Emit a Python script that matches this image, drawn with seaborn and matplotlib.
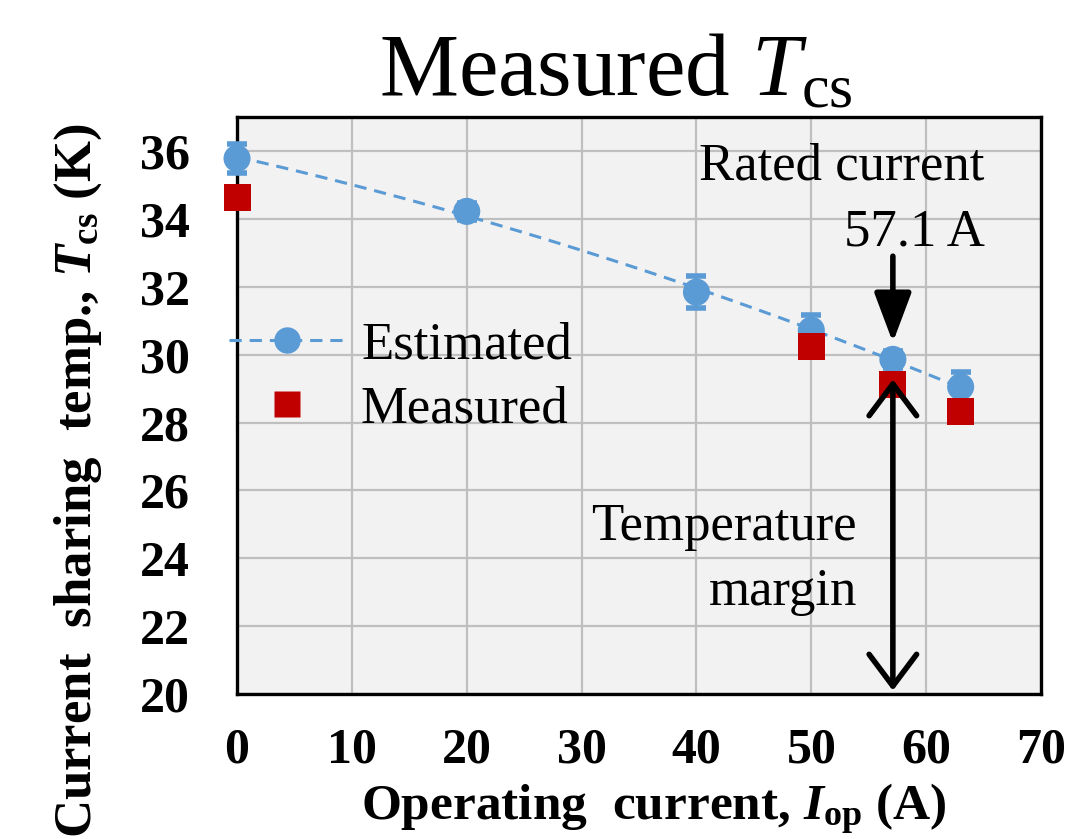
import matplotlib
matplotlib.use("Agg")
import matplotlib.pyplot as plt
from matplotlib.lines import Line2D
import seaborn as sns
import pandas as pd

# ---- data ----
est_current = [0, 20, 40, 50, 57.1, 63]
est_tcs = [35.78, 34.22, 31.84, 30.72, 29.86, 29.05]
est_err = [0.42, 0.25, 0.47, 0.44, 0.25, 0.44]
meas_current = [0, 50, 57.1, 63]
meas_tcs = [34.62, 30.24, 29.12, 28.32]
rated_current = 57.1
x_ticks = [0, 10, 20, 30, 40, 50, 60, 70]
y_ticks = [20, 22, 24, 26, 28, 30, 32, 34, 36]

BLUE = "#5B9BD5"
RED = "#C00000"

sns.set_theme(style="whitegrid", rc={
    "axes.facecolor": "#F2F2F2",
    "grid.color": "#BFBFBF",
    "grid.linewidth": 1.6,
    "axes.edgecolor": "black",
    "axes.linewidth": 2.4,
    "text.color": "black",
    "axes.labelcolor": "black",
    "xtick.color": "black",
    "ytick.color": "black",
})
plt.rcParams["font.family"] = ["Liberation Serif", "DejaVu Serif"]
plt.rcParams["mathtext.fontset"] = "custom"
plt.rcParams["mathtext.rm"] = "Liberation Serif"
plt.rcParams["mathtext.it"] = "Liberation Serif:italic"
plt.rcParams["mathtext.bf"] = "Liberation Serif:bold"
plt.rcParams["mathtext.bfit"] = "Liberation Serif:italic:bold"

est_df = pd.DataFrame({"I": est_current, "T": est_tcs, "err": est_err})
meas_df = pd.DataFrame({"I": meas_current, "T": meas_tcs})

fig = plt.figure(figsize=(10.75, 8.39), dpi=100)
ax = fig.add_axes([0.2205, 0.1728, 0.7479, 0.6877])

# trend line (2nd order polynomial fit of the estimated points)
sns.regplot(data=est_df, x="I", y="T", order=2, ci=None, scatter=False, ax=ax,
            line_kws=dict(color=BLUE, lw=2.2, ls=(0, (4, 2.6))), truncate=True)

# error bars of estimated
ax.errorbar(est_df["I"], est_df["T"], yerr=est_df["err"], fmt="none",
            ecolor=BLUE, elinewidth=3, capsize=7.5, capthick=4, zorder=4, clip_on=False)

sns.scatterplot(data=est_df, x="I", y="T", marker="o", s=380, color=BLUE,
                edgecolor="none", ax=ax, zorder=5, clip_on=False)
sns.scatterplot(data=meas_df, x="I", y="T", marker="s", s=380, color=RED,
                edgecolor="none", ax=ax, zorder=6, clip_on=False)

ax.set_xlim(0, 70)
ax.set_ylim(20, 37.0)
ax.set_xticks(x_ticks)
ax.set_yticks(y_ticks)
ax.set_xticklabels([str(v) for v in x_ticks], fontsize=36, fontweight="bold")
ax.set_yticklabels([str(v) for v in y_ticks], fontsize=36, fontweight="bold")
ax.tick_params(axis="y", pad=34, length=0)
ax.tick_params(axis="x", pad=24, length=0)
ax.grid(True)
for s in ax.spines.values():
    s.set_visible(True)
    s.set_color("black")
    s.set_linewidth(2.4)

ax.set_xlabel(r"Operating  current, $\mathbfit{I}_{\mathbf{op}}$ (A)", fontsize=37, fontweight="bold")
ax.set_ylabel(r"Current  sharing  temp., $\mathbfit{T}_{\mathbf{cs}}$ (K)", fontsize=38, fontweight="bold")
ax.xaxis.set_label_coords(0.519, -0.152)
ax.yaxis.set_label_coords(-0.165, 0.37)

fig.text(0.573, 0.887, r"Measured $T_{\mathrm{cs}}$", fontsize=64, ha="center", va="baseline")

# legend
handles = [
    Line2D([], [], color=BLUE, lw=2.2, ls=(0, (4, 2.6)), marker="o", markersize=19,
           markeredgecolor="none"),
    Line2D([], [], color=RED, lw=0, marker="s", markersize=19, markeredgecolor="none"),
]
ax.legend(handles, ["Estimated", "Measured"], loc="center left",
          bbox_to_anchor=(-0.01, 0.548), frameon=False, fontsize=38,
          handlelength=2.2, handletextpad=0.3, labelspacing=0.3,
          borderpad=0, borderaxespad=0)

# annotations
ax.text(0.930, 0.891, "Rated current", transform=ax.transAxes, fontsize=38,
        ha="right", va="baseline")
ax.text(0.930, 0.778, f"{rated_current} A", transform=ax.transAxes, fontsize=38,
        ha="right", va="baseline")
ax.text(0.771, 0.267, "Temperature", transform=ax.transAxes, fontsize=38,
        ha="right", va="baseline")
ax.text(0.771, 0.154, "margin", transform=ax.transAxes, fontsize=38,
        ha="right", va="baseline")

est_at_rated = est_tcs[est_current.index(rated_current)]
meas_at_rated = meas_tcs[meas_current.index(rated_current)]
ax.annotate("", xy=(rated_current, est_at_rated + 0.5), xytext=(rated_current, 32.9),
            arrowprops=dict(arrowstyle="-|>,head_length=0.8,head_width=0.3", lw=4,
                            color="black", shrinkA=0, shrinkB=0, mutation_scale=38),
            zorder=8)
ax.annotate("", xy=(rated_current, 20.1), xytext=(rated_current, meas_at_rated + 0.15),
            arrowprops=dict(arrowstyle="<->,head_length=0.6,head_width=0.45", lw=4,
                            color="black", shrinkA=0, shrinkB=0, mutation_scale=38),
            zorder=8)

fig.savefig("out.png", dpi=100)
